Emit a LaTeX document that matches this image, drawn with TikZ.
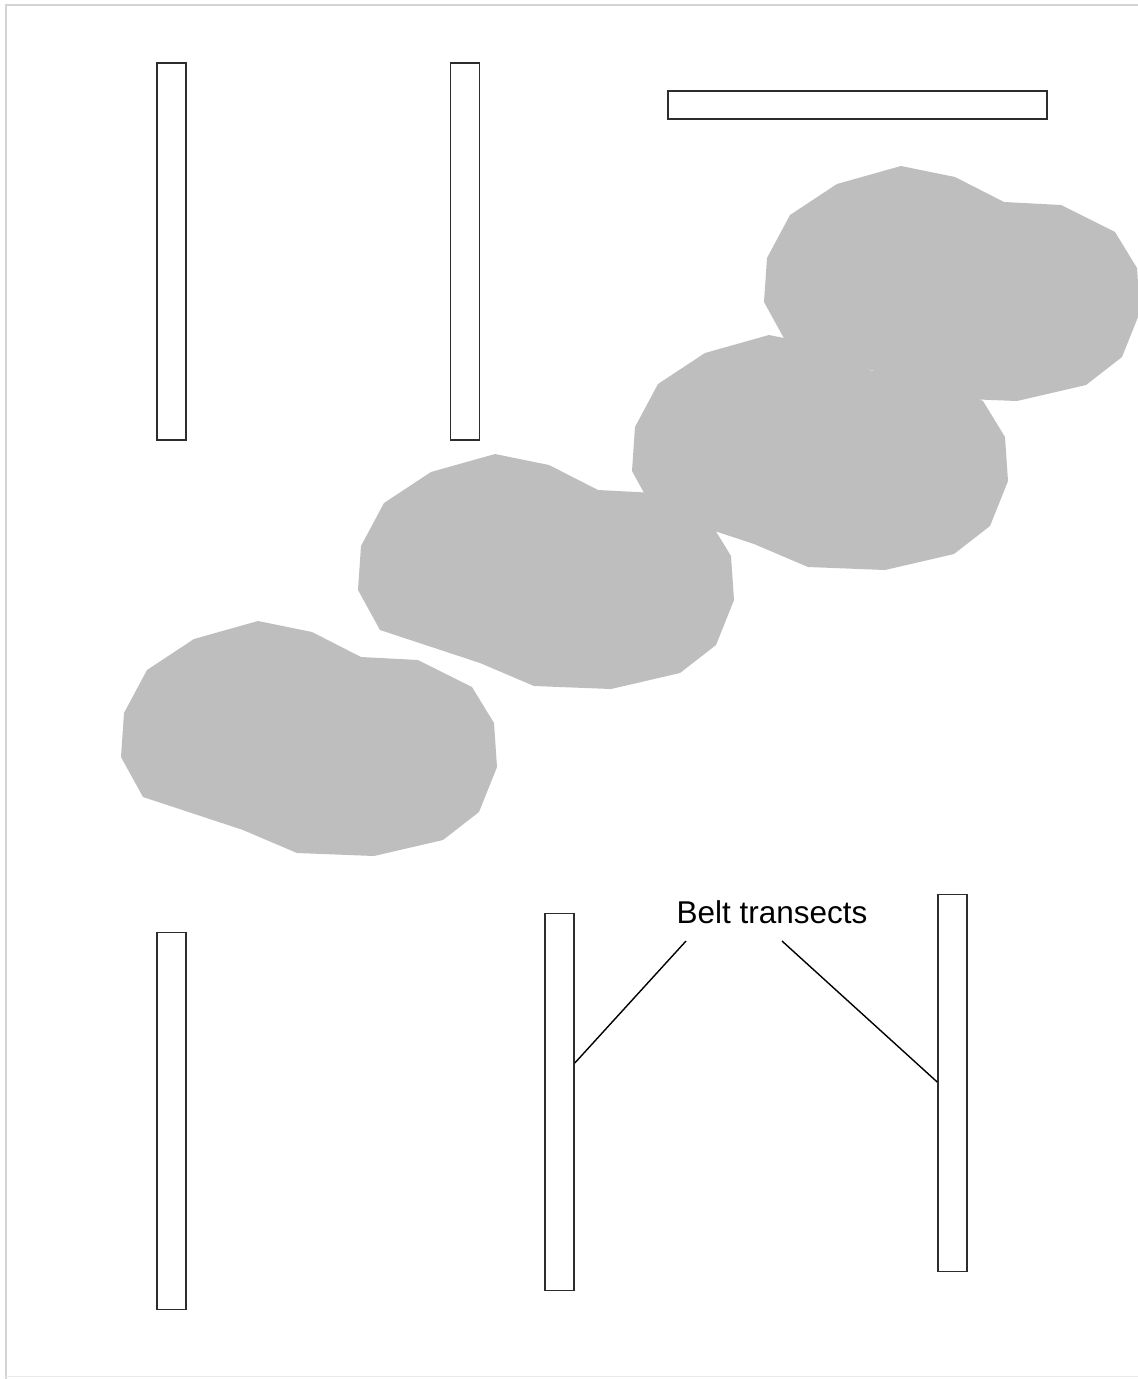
\documentclass[tikz,border=0pt]{standalone}
\usepackage{fontspec}
\setmainfont{Liberation Sans}
\usetikzlibrary{calc}
\definecolor{blobgray}{RGB}{190,190,190}
\definecolor{framegray}{RGB}{212,212,212}
\definecolor{edgegray}{RGB}{45,45,45}
\newcommand{\blobshape}{(258,621) -- (312,632) -- (361,657) -- (418,660) -- (472,687) -- (494,723) -- (497,767) -- (479,812) -- (443,840) -- (374,856) -- (297,853) -- (243,830) -- (143,797) -- (121,757) -- (124,713) -- (147,670) -- (194,639) -- cycle}
\begin{document}
\begin{tikzpicture}[x=1pt,y=-1pt,
  vbelt/.style={draw=edgegray, line width=1.6pt, fill=white, inner sep=0pt, minimum width=29pt, minimum height=377pt},
  hbelt/.style={draw=edgegray, line width=1.6pt, fill=white, inner sep=0pt, minimum width=379pt, minimum height=28pt},
  leader/.style={draw=black, line width=1.4pt},
  blob/.style={fill=blobgray},
  frame/.style={draw=framegray, line width=2pt}]
\useasboundingbox (0,0) rectangle (1138,1379);
\fill[white] (0,0) rectangle (1138,1379);
% frame
\draw[frame] (1138,5) -- (6,5) -- (6,1379);
\draw[draw=framegray!50, line width=1pt] (6,1376) -- (1138,1376);
% patches
\begin{scope}
\clip (0,0) rectangle (1138,1379);
\fill[blob] \blobshape;
\fill[blob, shift={(237,-167)}] \blobshape;
\fill[blob, shift={(511,-286)}] \blobshape;
\fill[blob, shift={(643,-455)}] \blobshape;
\end{scope}
% belt transects
\node[vbelt] (t1) at (171.5,251.5) {};
\node[vbelt] (t2) at (465,251.5) {};
\node[hbelt] (t3) at (857.5,105) {};
\node[vbelt] (t4) at (171.5,1121) {};
\node[vbelt] (t5) at (559.5,1102) {};
\node[vbelt] (t6) at (952.5,1083) {};
% label
\node[anchor=base, font=\fontsize{31.5}{38}\selectfont, inner sep=0pt] (lbl) at (772,923) {Belt transects};
\coordinate (l1) at (686,941);
\coordinate (l2) at (782,941);
\draw[leader] (l1) -- ($(t5.east)+(0,-39)$);
\draw[leader] (l2) -- ($(t6.west)+(0,-1)$);
\end{tikzpicture}
\end{document}
